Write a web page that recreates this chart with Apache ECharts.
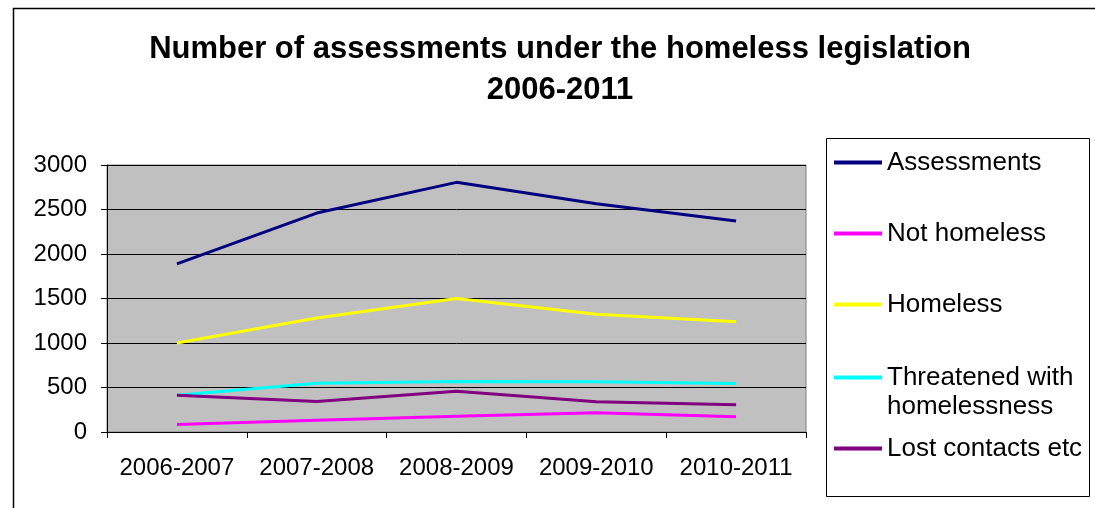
<!DOCTYPE html>
<html><head><meta charset="utf-8">
<script src="https://cdn.jsdelivr.net/npm/echarts@6/dist/echarts.min.js"></script>
<style>html,body{margin:0;padding:0;background:#fff}#c{width:1095px;height:508px}</style>
</head><body><div id="c"></div>
<script>
const categories = ['2006-2007','2007-2008','2008-2009','2009-2010','2010-2011'];
const assessments = [1890, 2460, 2805, 2565, 2370];
const notHomeless = [84, 132, 177, 216, 172];
const homeless = [1000, 1282, 1500, 1322, 1240];
const threatened = [412, 548, 567, 564, 545];
const lostContacts = [412, 344, 458, 341, 307];
const yTicks = [0, 500, 1000, 1500, 2000, 2500, 3000];

const seriesDefs = [
  {name:'Assessments', data:assessments, color:'#000080', legendTop:148},
  {name:'Not homeless', data:notHomeless, color:'#FF00FF', legendTop:219},
  {name:'Homeless', data:homeless, color:'#FFFF00', legendTop:290},
  {name:'Threatened with homelessness', data:threatened, color:'#00FFFF', legendTop:334, label:' \nThreatened with\nhomelessness'},
  {name:'Lost contacts etc', data:lostContacts, color:'#800080', legendTop:434}
];
const FONT = 'Liberation Sans, Arial, sans-serif';
const chart = echarts.init(document.getElementById('c'), null, {renderer:'canvas'});
chart.setOption({
  animation:false,
  graphic:[
    {type:'rect', left:11, top:6, shape:{x:0,y:0,width:1100,height:520}, style:{fill:'none', stroke:'#000', lineWidth:1.5}, z:-1},
    {type:'rect', left:826, top:138, shape:{x:0,y:0,width:263,height:358}, style:{fill:'#fff', stroke:'#000', lineWidth:1}, z:-1}
  ],
  title:{
    text:'Number of assessments under the homeless legislation\n2006-2011',
    left:555, textAlign:'center', top:24,
    textStyle:{fontFamily:FONT, fontWeight:'bold', fontSize:31, lineHeight:41, color:'#000'}
  },
  legend: seriesDefs.map(s => ({
    data:[s.name], orient:'vertical', left:834, top:s.legendTop, padding:0,
    itemWidth:48, itemHeight:4, itemGap:0,
    icon:'rect',
    formatter: () => s.label || s.name,
    textStyle:{fontFamily:FONT, fontSize:26, color:'#000', lineHeight:29}
  })),
  grid:{left:107, right:289, top:165, bottom:76, show:true, backgroundColor:'#C0C0C0', borderColor:'#808080', borderWidth:1},
  xAxis:{
    type:'category', data:categories, boundaryGap:true,
    axisLine:{lineStyle:{color:'#000', width:1}},
    axisTick:{show:true, length:6, inside:false, lineStyle:{color:'#000'}},
    axisLabel:{fontFamily:FONT, fontSize:24, color:'#000', margin:24, interval:0, hideOverlap:false},
    splitLine:{show:false}
  },
  yAxis:{
    type:'value', min:0, max:3000, interval:500,
    axisLine:{show:true, lineStyle:{color:'#000'}},
    axisTick:{show:true, length:6, lineStyle:{color:'#000'}},
    axisLabel:{fontFamily:FONT, fontSize:24, color:'#000', margin:20, formatter:v => yTicks.includes(v) ? String(v) : ''},
    splitLine:{show:true, lineStyle:{color:'#000', width:1}}
  },
  series: seriesDefs.map(s => ({
    name:s.name, type:'line', data:s.data, symbol:'none',
    lineStyle:{color:s.color, width:3}, itemStyle:{color:s.color}
  }))
});
</script></body></html>
